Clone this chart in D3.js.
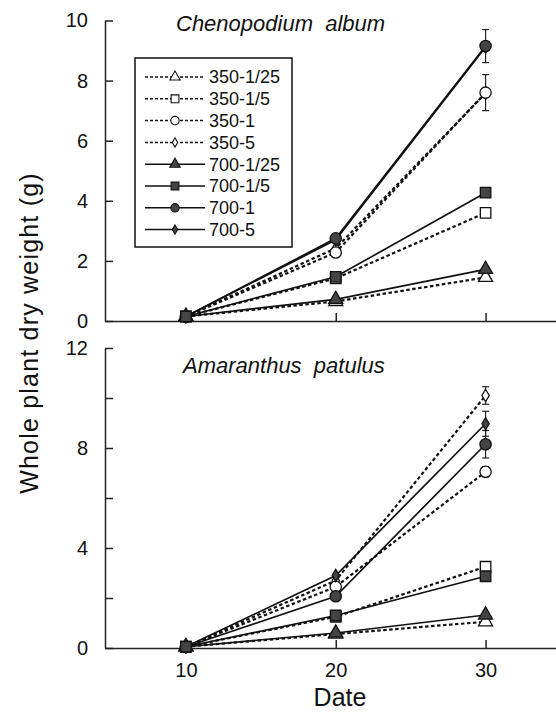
<!DOCTYPE html>
<html>
<head>
<meta charset="utf-8">
<script src="https://cdn.jsdelivr.net/npm/d3@7"></script>
<style>
  body { margin: 0; background: #fff; }
  svg text { font-family: "Liberation Sans", Arial, Helvetica, sans-serif; fill: #111; }
</style>
</head>
<body>
<svg id="chart" width="556" height="719"></svg>
<script>
// ---- data ----
var days = [10, 20, 30];
var seriesNames = ["350-1/25", "350-1/5", "350-1", "350-5", "700-1/25", "700-1/5", "700-1", "700-5"];

// Chenopodium album, whole plant dry weight (g), one row per series
var chenopodium = [
    [0.15, 0.65, 1.45],
    [0.15, 1.42, 3.6],
    [0.15, 2.28, 7.6],
    [0.15, 2.42, 7.58],
    [0.15, 0.72, 1.72],
    [0.15, 1.47, 4.27],
    [0.15, 2.75, 9.15],
    [0.15, 2.7, 9.12]
];
var chenopodiumErr = [
    [0, 0, 0], [0, 0, 0], [0, 0, 0.6], [0, 0, 0],
    [0, 0, 0], [0, 0, 0], [0, 0, 0.55], [0, 0, 0]
];

// Amaranthus patulus
var amaranthus = [
    [0.05, 0.56, 1.05],
    [0.05, 1.25, 3.25],
    [0.05, 2.45, 7.05],
    [0.05, 2.7, 10.1],
    [0.05, 0.6, 1.32],
    [0.05, 1.3, 2.87],
    [0.05, 2.07, 8.15],
    [0.05, 2.9, 8.97]
];
var amaranthusErr = [
    [0, 0, 0], [0, 0, 0], [0, 0, 0.2], [0, 0, 0.35],
    [0, 0, 0], [0, 0, 0], [0, 0, 0.55], [0, 0, 0.5]
];

var topTicks = [0, 2, 4, 6, 8, 10];
var topLabels = [0, 2, 4, 6, 8, 10];
var bottomTicks = [0, 2, 4, 6, 8, 10, 12];
var bottomLabels = [0, 4, 8, 12];
var xTicks = [10, 20, 30];

// ---- drawing ----
var svg = d3.select("#chart");

var x = d3.scaleLinear().domain([4.6, 34.7]).range([105, 556]);

// order in which markers are stacked (last one ends up on top)
var markerOrder = [3, 2, 1, 0, 7, 6, 4, 5];

// marker shape and fill for each series
function symbolOf(name) {
    if (name.endsWith("1/25")) return d3.symbolTriangle;
    if (name.endsWith("1/5")) return d3.symbolSquare;
    if (name.endsWith("-5")) return d3.symbolDiamond;
    return d3.symbolCircle;
}
function sizeOf(name, small) {
    var s;
    if (name.endsWith("1/25")) s = 85;
    else if (name.endsWith("1/5")) s = 110;
    else if (name.endsWith("-5")) s = 45;
    else s = 100;
    return small ? s * 0.55 : s;
}
function isOpen(name) { return name.indexOf("350") == 0; }

function drawPanel(values, errors, yDomain, yRange, ticks, labels, showXLabels, title, titleX, titleY) {
    var y = d3.scaleLinear().domain(yDomain).range(yRange);
    var g = svg.append("g");

    // axes
    var yAxis = d3.axisLeft(y)
        .tickValues(ticks)
        .tickSize(-8)
        .tickSizeOuter(0)
        .tickPadding(17)
        .tickFormat(function(d) { return labels.indexOf(d) >= 0 ? d : ""; });
    g.append("g").attr("class", "axis")
        .attr("transform", "translate(" + x.range()[0] + ",0)")
        .call(yAxis);

    var xAxis = d3.axisBottom(x)
        .tickValues(xTicks)
        .tickSize(-8)
        .tickSizeOuter(0)
        .tickPadding(15)
        .tickFormat(showXLabels ? d3.format("d") : function() { return ""; });
    g.append("g").attr("class", "axis")
        .attr("transform", "translate(0," + y(0) + ")")
        .call(xAxis);

    g.selectAll(".axis path, .axis line").attr("stroke", "#222").attr("stroke-width", 1.5);
    g.selectAll(".axis text").attr("font-size", 20).attr("fill", "#111");

    // lines
    var line = d3.line()
        .x(function(d, i) { return x(days[i]); })
        .y(function(d) { return y(d); });

    g.selectAll(".series")
        .data(values)
        .enter()
        .append("path")
        .attr("d", line)
        .attr("fill", "none")
        .attr("stroke", "#111")
        .attr("stroke-width", function(d, i) { return isOpen(seriesNames[i]) ? 2.2 : 1.7; })
        .attr("stroke-dasharray", function(d, i) { return isOpen(seriesNames[i]) ? "3.5,2.5" : null; });

    // error bars
    values.forEach(function(row, i) {
        row.forEach(function(v, j) {
            var e = errors[i][j];
            if (!e) return;
            var cx = x(days[j]);
            g.append("line")
                .attr("x1", cx).attr("x2", cx)
                .attr("y1", y(v - e)).attr("y2", y(v + e))
                .attr("stroke", "#222").attr("stroke-width", 1.2);
            [v - e, v + e].forEach(function(t) {
                g.append("line")
                    .attr("x1", cx - 3.5).attr("x2", cx + 3.5)
                    .attr("y1", y(t)).attr("y2", y(t))
                    .attr("stroke", "#222").attr("stroke-width", 1.2);
            });
        });
    });

    // markers
    markerOrder.forEach(function(i) {
        var name = seriesNames[i];
        g.selectAll(null)
            .data(values[i])
            .enter()
            .append("path")
            .attr("d", d3.symbol().type(symbolOf(name)).size(sizeOf(name, false)))
            .attr("transform", function(d, j) { return "translate(" + x(days[j]) + "," + y(d) + ")"; })
            .attr("fill", isOpen(name) ? "#fff" : "#444")
            .attr("stroke", "#111")
            .attr("stroke-width", 1.3);
    });

    g.append("text")
        .attr("x", titleX)
        .attr("y", titleY)
        .attr("font-size", 22)
        .attr("font-style", "italic")
        .style("white-space", "pre")
        .text(title);
}

drawPanel(chenopodium, chenopodiumErr, [0, 10], [321, 20.5], topTicks, topLabels, false,
    "Chenopodium  album", 176, 31);
drawPanel(amaranthus, amaranthusErr, [0, 12], [648, 348], bottomTicks, bottomLabels, true,
    "Amaranthus  patulus", 183, 373);

// legend
var legend = svg.append("g");
legend.append("rect")
    .attr("x", 135).attr("y", 58)
    .attr("width", 157).attr("height", 189)
    .attr("fill", "#fff")
    .attr("stroke", "#111")
    .attr("stroke-width", 1.5);

var rows = legend.selectAll(".row")
    .data(seriesNames)
    .enter()
    .append("g")
    .attr("transform", function(d, i) { return "translate(0," + (77 + i * 21.8) + ")"; });

rows.append("line")
    .attr("x1", 145).attr("x2", 205)
    .attr("stroke", "#111")
    .attr("stroke-width", 1.5)
    .attr("stroke-dasharray", function(d) { return isOpen(d) ? "3,2" : null; });

rows.append("path")
    .attr("d", function(d) { return d3.symbol().type(symbolOf(d)).size(sizeOf(d, true))(); })
    .attr("transform", "translate(175,0)")
    .attr("fill", function(d) { return isOpen(d) ? "#fff" : "#444"; })
    .attr("stroke", "#111")
    .attr("stroke-width", 1.1);

rows.append("text")
    .attr("x", 209)
    .attr("dy", "0.36em")
    .attr("font-size", 18)
    .text(function(d) { return d; });

// axis titles
svg.append("text")
    .attr("transform", "translate(38,333) rotate(-90)")
    .attr("text-anchor", "middle")
    .attr("font-size", 25)
    .attr("letter-spacing", 1.2)
    .text("Whole plant dry weight (g)");

svg.append("text")
    .attr("x", 340)
    .attr("y", 706)
    .attr("text-anchor", "middle")
    .attr("font-size", 25)
    .text("Date");
</script>
</body>
</html>
